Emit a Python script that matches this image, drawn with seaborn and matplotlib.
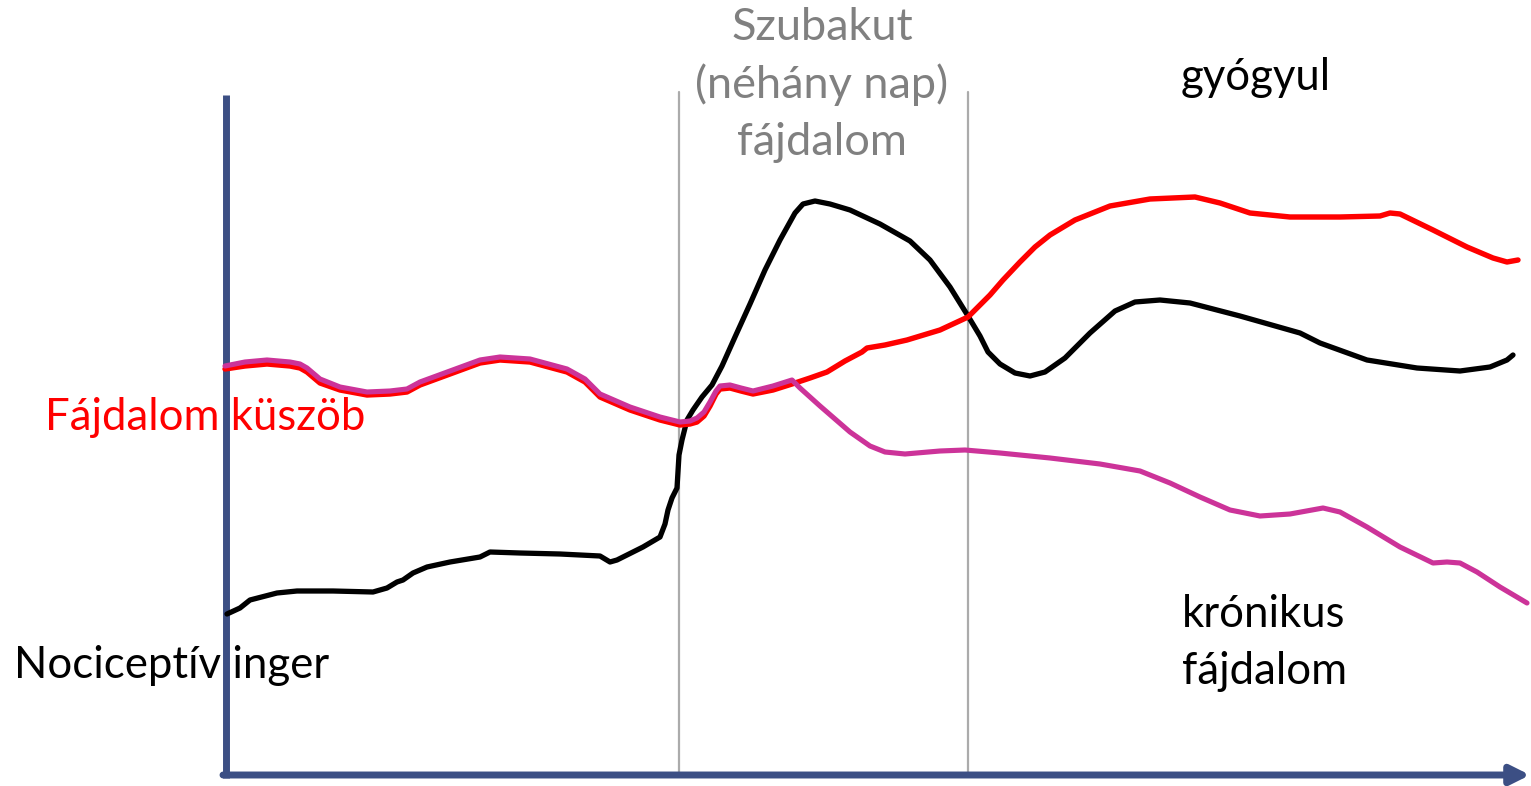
import pandas as pd
import matplotlib.pyplot as plt
import seaborn as sns

sns.set_theme(style="white")
plt.rcParams['font.family'] = ['Lato', 'DejaVu Sans']

# Curves (x = time, y = drawing height, top = 0)
stim_x = [227, 240, 250, 277, 297, 333, 373, 387, 397, 403, 413, 427, 450, 480, 490, 520, 560, 600, 610, 617,
          643, 660, 665, 668, 672, 677, 679, 682, 687, 693, 702, 712, 722, 735, 750, 765, 780, 795, 803, 815,
          830, 850, 880, 910, 930, 950, 968, 980, 988, 1000, 1015, 1030, 1045, 1065, 1090, 1115, 1135, 1160,
          1190, 1240, 1300, 1320, 1367, 1417, 1460, 1490, 1507, 1513]
stim_y = [614, 608, 600, 593, 591, 591, 592, 588, 582, 580, 573, 567, 562, 557, 552, 553, 554, 556, 562, 560,
          547, 537, 524, 510, 498, 488, 455, 440, 420, 410, 397, 385, 366, 337, 304, 270, 240, 213, 204, 201,
          204, 210, 224, 241, 260, 287, 316, 336, 352, 364, 373, 376, 372, 358, 333, 311, 302, 300,
          303, 316, 333, 343, 360, 368, 371, 367, 360, 355]

thresh_x = [225, 245, 267, 290, 300, 307, 320, 340, 367, 390, 407, 420, 450, 480, 500, 530, 567, 585, 600, 630,
            660, 680, 690, 697, 704, 710, 716, 720, 730, 741, 753, 773, 792, 810, 827, 845, 862, 867, 885, 907,
            940, 968, 980, 990, 1003, 1020, 1035, 1050, 1075, 1110, 1150, 1195, 1220, 1250, 1290, 1340, 1380,
            1390, 1400, 1433, 1467, 1493, 1507, 1518]
thresh_y = [369, 366, 364, 366, 368, 372, 383, 390, 395, 394, 392, 385, 374, 363, 360, 362, 372, 382, 397, 410,
            420, 425, 424, 422, 416, 406, 394, 389, 388, 391, 394, 390, 384, 378, 372, 361, 352, 348, 345, 340,
            330, 317, 305, 295, 280, 262, 247, 235, 220, 206, 199, 197, 203, 213, 217, 217, 216,
            213, 214, 230, 247, 258, 262, 260]

chronic_x = [225, 245, 267, 290, 300, 307, 320, 340, 367, 390, 407, 420, 450, 480, 500, 530, 567, 585, 600, 630,
             660, 680, 690, 697, 704, 710, 716, 720, 730, 741, 753, 773, 792, 800, 820, 850, 870, 885, 905, 940,
             965, 1000, 1050, 1100, 1140, 1170, 1200, 1230, 1260, 1290, 1323, 1340, 1367, 1400, 1433, 1447,
             1460, 1477, 1500, 1527]
chronic_y = [366, 362, 360, 362, 364, 368, 379, 387, 392, 391, 389, 382, 371, 360, 357, 359, 369, 379, 394, 407,
             417, 422, 421, 418, 412, 402, 391, 386, 385, 388, 391, 386, 380, 388, 406, 432, 446, 452, 454, 451,
             450, 453, 458, 464, 471, 483, 497, 510, 516, 514, 508, 512, 527, 547, 563, 562,
             563, 572, 587, 603]

phase_edges = [679, 968]

axis_color = '#3C4F84'

fig = plt.figure(figsize=(15.31, 7.86), dpi=100)
ax = fig.add_axes([0, 0, 1, 1])

# phase separators
for xe in phase_edges:
    ax.plot([xe, xe], [92, 775], color='#ABABAB', lw=1.6, zorder=1)

# axes of the sketch
ax.plot([226, 226], [95, 778], color=axis_color, lw=5, solid_capstyle='butt', zorder=2)
ax.annotate('', xy=(1530, 775), xytext=(223, 775),
            arrowprops=dict(arrowstyle='-|>', lw=5, color=axis_color, mutation_scale=28,
                            shrinkA=0, shrinkB=0), zorder=2)

df_stim = pd.DataFrame({'x': stim_x, 'y': stim_y})
df_thr = pd.DataFrame({'x': thresh_x, 'y': thresh_y})
df_chr = pd.DataFrame({'x': chronic_x, 'y': chronic_y})

line_kw = dict(sort=False, estimator=None, ax=ax, solid_joinstyle='round', solid_capstyle='round')
sns.lineplot(data=df_stim, x='x', y='y', color='black', lw=3.8, zorder=3, **line_kw)
sns.lineplot(data=df_thr, x='x', y='y', color='#FF0000', lw=3.9, zorder=4, **line_kw)
sns.lineplot(data=df_chr, x='x', y='y', color='#CC3399', lw=3.7, zorder=5, **line_kw)
ax.set_xlim(0, 1531)
ax.set_ylim(786, 0)
ax.axis('off')

fs = 31.5
gfs = 32.5
ax.text(822, 40, 'Szubakut', color='#808080', fontsize=gfs, ha='center', va='baseline')
ax.text(822, 98, '(néhány nap)', color='#808080', fontsize=gfs, ha='center', va='baseline')
ax.text(822, 155, 'fájdalom', color='#808080', fontsize=gfs, ha='center', va='baseline')
ax.text(1181, 90, 'gyógyul', color='black', fontsize=fs, ha='left', va='baseline')
ax.text(45, 430, 'Fájdalom küszöb', color='#FF0000', fontsize=fs, ha='left', va='baseline')
ax.text(14, 678, 'Nociceptív inger', color='black', fontsize=fs, ha='left', va='baseline')
ax.text(1182, 627, 'krónikus', color='black', fontsize=fs, ha='left', va='baseline')
ax.text(1182, 684, 'fájdalom', color='black', fontsize=fs, ha='left', va='baseline')

plt.savefig('out.png', dpi=100)
plt.close()
